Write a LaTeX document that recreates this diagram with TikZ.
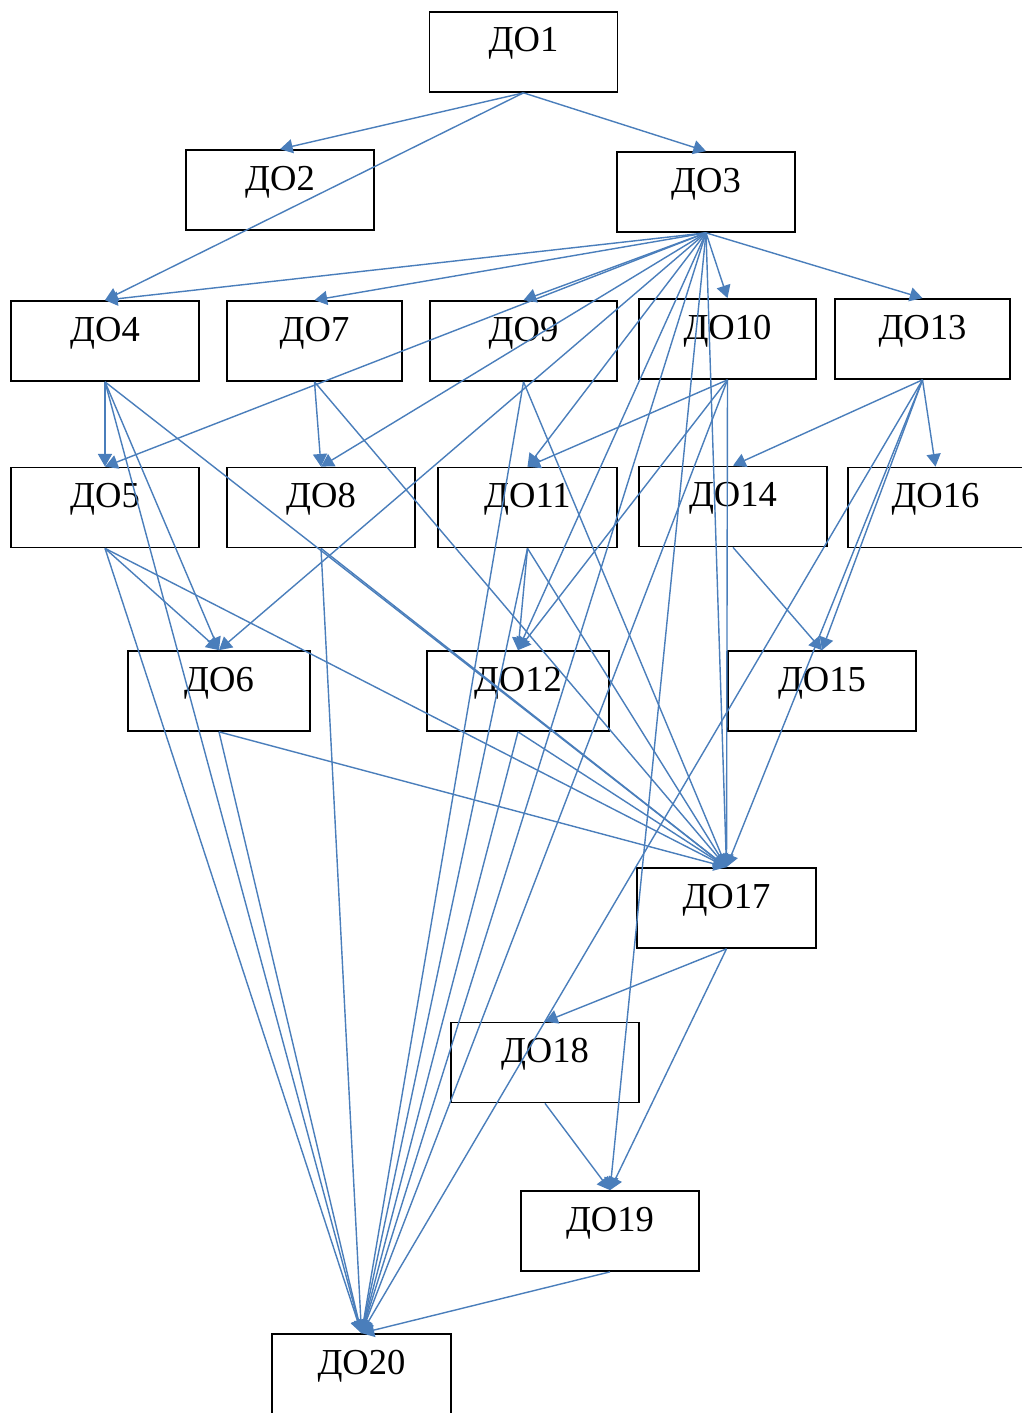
\documentclass[tikz,border=0pt]{standalone}
\usepackage{fontspec}
\setmainfont{Liberation Serif}
\usetikzlibrary{arrows.meta}
\definecolor{linkblue}{RGB}{74,126,187}

\begin{document}
\begin{tikzpicture}[x=0.025cm, y=-0.025cm,
    box/.style={draw, line width=1.2pt, minimum width=4.7cm, inner ysep=0pt,
        text height=1cm, text depth=1cm, font=\fontsize{26}{30}\selectfont},
    link/.style={draw=linkblue, line width=1pt, -{Triangle[length=9pt,width=10pt]}}]

    \useasboundingbox (0,0) rectangle (1021,1413);

    \node[box] (do1) at (523.5,52) {ДО1};
    \node[box] (do2) at (280,190) {ДО2};
    \node[box, minimum width=4.45cm] (do3) at (706,192) {ДО3};

    \node[box] (do4) at (105,341) {ДО4};
    \node[box, minimum width=4.375cm] (do7) at (314.5,341) {ДО7};
    \node[box, minimum width=4.675cm] (do9) at (523.5,341) {ДО9};
    \node[box, minimum width=4.425cm] (do10) at (727.5,339) {ДО10};
    \node[box, minimum width=4.375cm] (do13) at (922.5,339) {ДО13};

    \node[box] (do5) at (105,507.5) {ДО5};
    \node[box] (do8) at (321,507.5) {ДО8};
    \node[box, minimum width=4.475cm] (do11) at (527.5,507.5) {ДО11};
    \node[box] (do14) at (733,506.5) {ДО14};
    \node[box, minimum width=4.375cm] (do16) at (935.5,507.5) {ДО16};

    \node[box, minimum width=4.55cm] (do6) at (219,691) {ДО6};
    \node[box, minimum width=4.55cm] (do12) at (518,691) {ДО12};
    \node[box] (do15) at (822,691) {ДО15};

    \node[box, minimum width=4.475cm] (do17) at (726.5,908) {ДО17};
    \node[box] (do18) at (545,1062.5) {ДО18};
    \node[box, minimum width=4.45cm] (do19) at (610,1231) {ДО19};
    \node[box, minimum width=4.475cm] (do20) at (361.5,1374) {ДО20};

    \draw[link] (do1.south) -- (do2.north);
    \draw[link] (do1.south) -- (do3.north);
    \draw[link] (do1.south) -- (do4.north);

    \draw[link] (do3.south) -- (do4.north);
    \draw[link] (do3.south) -- (do7.north);
    \draw[link] (do3.south) -- (do9.north);
    \draw[link] (do3.south) -- (do10.north);
    \draw[link] (do3.south) -- (do13.north);
    \draw[link] (do3.south) -- (do5.north);
    \draw[link] (do3.south) -- (do8.north);
    \draw[link] (do3.south) -- (do6.north);
    \draw[link] (do3.south) -- (do11.north);
    \draw[link] (do3.south) -- (do12.north);
    \draw[link] (do3.south) -- (do17.north);
    \draw[link] (do3.south) -- (do19.north);
    \draw[link] (do3.south) -- (do20.north);

    \draw[link] (do4.south) -- (do5.north);
    \draw[link] (do4.south) -- (do6.north);
    \draw[link] (do4.south) -- (do17.north);
    \draw[link] (do4.south) -- (do20.north);

    \draw[link] (do7.south) -- (do8.north);
    \draw[link] (do7.south) -- (do17.north);

    \draw[link] (do9.south) -- (do17.north);
    \draw[link] (do9.south) -- (do20.north);

    \draw[link] (do10.south) -- (do11.north);
    \draw[link] (do10.south) -- (do12.north);
    \draw[link] (do10.south) -- (do17.north);
    \draw[link] (do10.south) -- (do20.north);

    \draw[link] (do13.south) -- (do14.north);
    \draw[link] (do13.south) -- (do16.north);
    \draw[link] (do13.south) -- (do15.north);
    \draw[link] (do13.south) -- (do17.north);
    \draw[link] (do13.south) -- (do20.north);

    \draw[link] (do5.south) -- (do6.north);
    \draw[link] (do5.south) -- (do17.north);
    \draw[link] (do5.south) -- (do20.north);

    \draw[link] (do8.south) -- (do17.north);
    \draw[link] (do8.south) -- (do20.north);

    \draw[link] (do11.south) -- (do12.north);
    \draw[link] (do11.south) -- (do17.north);
    \draw[link] (do11.south) -- (do20.north);

    \draw[link] (do14.south) -- (do15.north);

    \draw[link] (do6.south) -- (do17.north);
    \draw[link] (do6.south) -- (do20.north);

    \draw[link] (do12.south) -- (do17.north);
    \draw[link] (do12.south) -- (do20.north);

    \draw[link] (do17.south) -- (do18.north);
    \draw[link] (do17.south) -- (do19.north);
    \draw[link] (do18.south) -- (do19.north);
    \draw[link] (do19.south) -- (do20.north);

\end{tikzpicture}
\end{document}
